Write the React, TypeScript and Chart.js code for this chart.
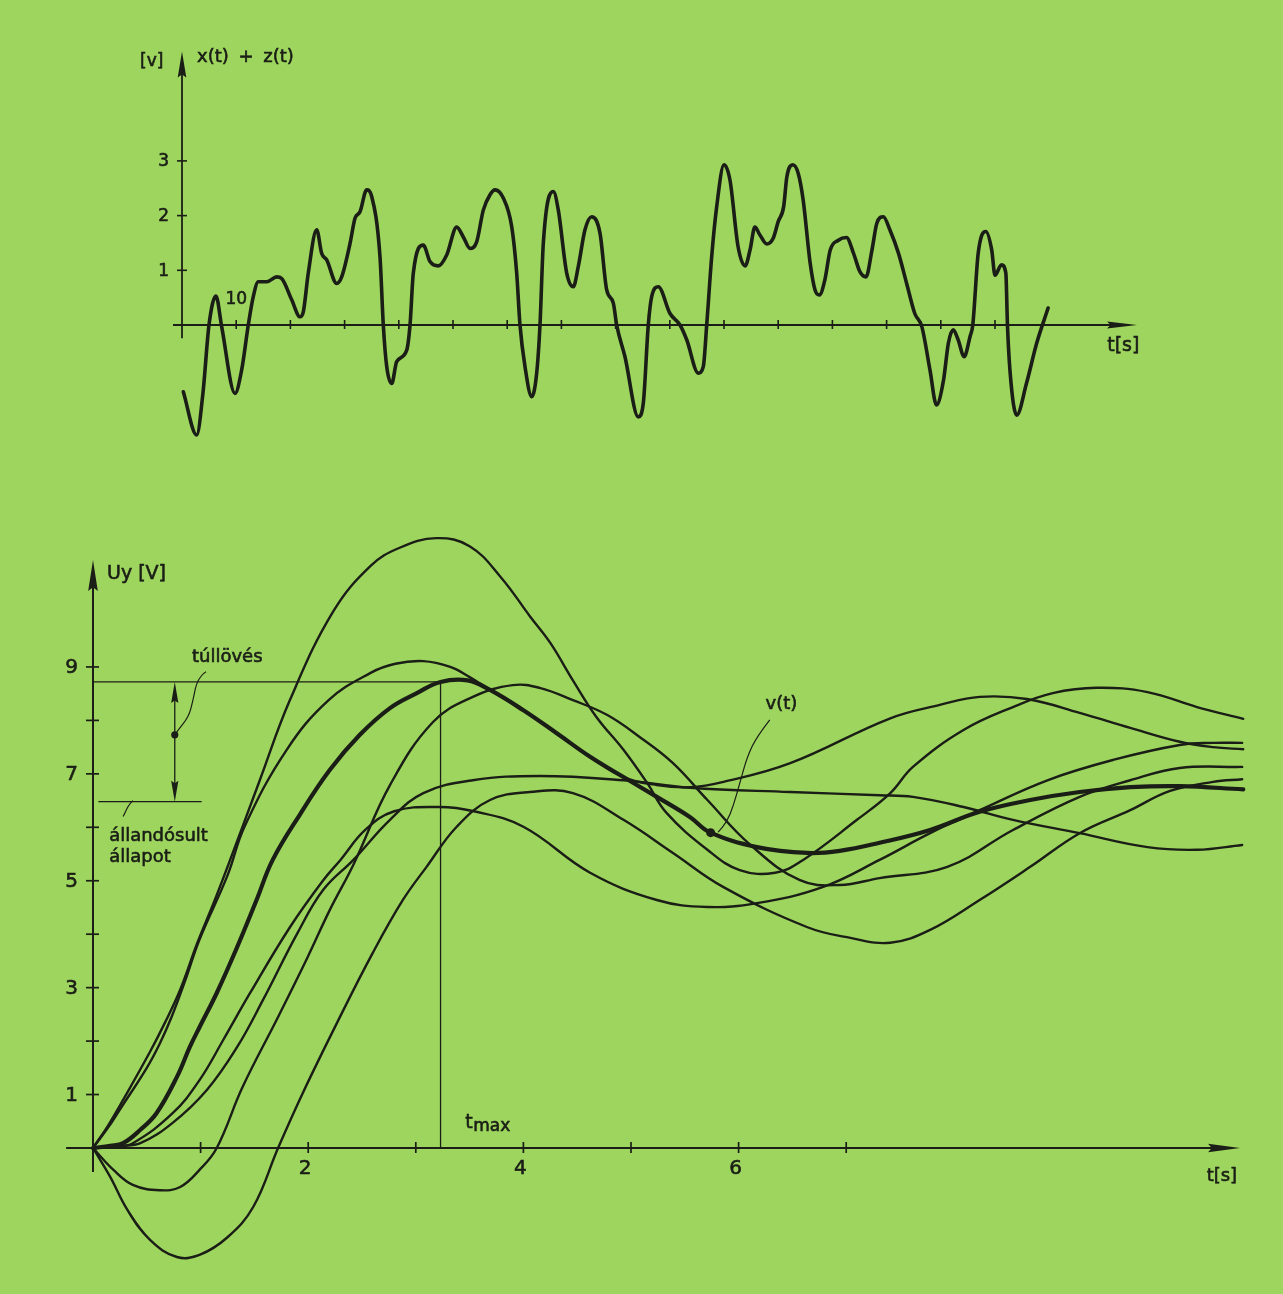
import { useEffect, useRef } from "react";
import { Chart, registerables } from "chart.js";

Chart.register(...registerables);

const W = 1283;
const H = 1294;
const BG = "#9ed55e";
const INK = "#1a1e16";
const FONT = '"DejaVu Sans", "Liberation Sans", sans-serif';

// ---------------- top chart: x(t) + z(t) ----------------
const noiseT = [
  0.24, 2.71, 3.87, 4.98, 6.27, 7.32, 9.78, 11.01, 12.23, 13.15,
  14.08, 15.63, 17.47, 18.39, 20.24, 21.77, 22.38, 23.3, 24.85, 25.77,
  26.7, 28.54, 29.46, 31.0, 31.92, 32.84, 34.08, 35.0, 36.53, 37.14,
  37.77, 38.69, 39.61, 41.46, 42.07, 42.68, 44.52, 45.76, 47.29, 48.84,
  50.68, 51.9, 53.14, 54.37, 55.59, 56.83, 57.75, 59.28, 60.83, 61.75,
  62.36, 63.28, 64.52, 65.44, 66.05, 66.66, 68.51, 69.43, 70.98, 72.2,
  73.12, 74.35, 75.59, 77.12, 78.36, 79.58, 80.2, 81.73, 84.19, 85.11,
  86.03, 86.66, 87.88, 90.04, 91.88, 93.12, 95.26, 96.18, 96.81, 97.73,
  98.65, 100.0, 101.1, 102.6, 103.9, 104.8, 105.7, 106.6, 107.9, 109.1,
  110.0, 111.0, 111.6, 112.7, 113.7, 114.6, 115.9, 116.8, 117.6, 118.6,
  119.6, 121.1, 122.6, 123.9, 125.1, 126.2, 127.3, 128.2, 129.4, 130.6,
  132.2, 133.7, 135.2, 136.5, 138.0, 139.2, 140.5, 141.4, 142.3, 143.2,
  144.3, 145.4, 145.9, 146.9, 148.3, 149.4, 150.0, 151.2, 152.0, 152.3,
  152.8, 154.0, 155.8, 157.7, 159.8,
];
const noiseV = [
  -1.22, -2.01, -1.24, 0, 0.53, -0.03, -1.25, -0.82, 0, 0.52,
  0.79, 0.79, 0.88, 0.85, 0.46, 0.15, 0.24, 0.95, 1.74, 1.31,
  1.19, 0.76, 0.88, 1.49, 1.95, 2.07, 2.47, 2.35, 1.25, 0,
  -0.76, -1.07, -0.67, -0.46, 0, 0.95, 1.46, 1.16, 1.08, 1.28,
  1.79, 1.61, 1.4, 1.52, 2.1, 2.38, 2.47, 2.32, 1.8, 0.95,
  0, -0.76, -1.31, -0.88, 0, 1.49, 2.44, 2.1, 0.95, 0.7,
  1.07, 1.74, 1.98, 1.68, 0.64, 0.4, 0, -0.58, -1.68, -1.43,
  0, 0.52, 0.7, 0.21, 0, -0.27, -0.88, -0.76, 0, 1.25,
  2.16, 2.93, 2.65, 1.43, 1.08, 1.37, 1.79, 1.65, 1.48, 1.59,
  1.89, 2.16, 2.71, 2.93, 2.77, 2.29, 1.13, 0.64, 0.55, 0.82,
  1.37, 1.55, 1.6, 1.31, 0.97, 0.88, 1.37, 1.86, 1.98, 1.74,
  1.31, 0.76, 0.21, -0.03, -0.82, -1.46, -1.01, -0.33, -0.09, -0.27,
  -0.58, -0.21, 0, 1.31, 1.71, 1.37, 0.91, 1.1, 0.95, 0,
  -0.88, -1.65, -1.07, -0.33, 0.31,
];
const topXTicks = [10, 20, 30, 40, 50, 60, 70, 80, 90, 100, 110, 120, 130, 140, 150];
const topYTicks = [1, 2, 3];
const topYLabels = ["1", "2", "3"];

// ---------------- bottom chart: Uy step responses ----------------
const c1T = [0, 0.14, 0.28, 0.53, 0.67, 0.81, 0.97, 1.12, 1.25, 1.55, 1.83, 2.23, 2.58, 2.85, 3.19, 3.5, 3.79, 4.06, 4.25, 4.46, 4.68, 4.93, 5.15, 5.33, 5.71, 6.01, 6.34, 6.6, 7.1, 7.41, 7.62, 8.09, 8.55, 8.92, 9.33, 9.8, 10.26, 10.69];
const c1V = [0, 0.42, 0.9, 1.8, 2.35, 2.96, 3.84, 4.58, 5.26, 6.88, 8.38, 10.03, 10.89, 11.23, 11.41, 11.26, 10.68, 9.95, 9.45, 8.75, 8.06, 7.45, 6.83, 6.27, 5.58, 5.2, 5.15, 5.39, 6.14, 6.64, 7.13, 7.82, 8.25, 8.51, 8.61, 8.53, 8.25, 8.03];

const c2T = [0, 0.14, 0.25, 0.5, 0.62, 0.73, 0.86, 0.99, 1.25, 1.41, 1.8, 2.19, 2.58, 2.81, 3.07, 3.32, 3.5, 3.69, 4.0, 4.31, 4.62, 4.93, 5.24, 5.55, 5.86, 6.48, 7.41, 7.87, 8.24, 8.68, 9.17, 9.64, 10.1, 10.41, 10.69];
const c2V = [0, 0.38, 0.72, 1.5, 1.95, 2.45, 3.15, 3.9, 5.1, 6.02, 7.45, 8.38, 8.89, 9.06, 9.11, 9.0, 8.81, 8.57, 8.19, 7.76, 7.32, 6.94, 6.79, 6.75, 6.85, 7.2, 8.04, 8.29, 8.44, 8.4, 8.14, 7.86, 7.6, 7.5, 7.46];

const vT = [0, 0.16, 0.28, 0.44, 0.59, 0.78, 0.9, 0.99, 1.15, 1.34, 1.52, 1.67, 1.92, 2.2, 2.48, 2.76, 3.01, 3.23, 3.48, 3.69, 4.0, 4.31, 4.62, 4.93, 5.24, 5.55, 5.73, 6.17, 6.64, 6.94, 7.31, 7.78, 8.24, 8.71, 9.17, 9.64, 10.1, 10.69];
const vV = [0, 0.04, 0.09, 0.34, 0.65, 1.33, 1.89, 2.26, 2.9, 3.76, 4.64, 5.39, 6.23, 7.07, 7.73, 8.23, 8.51, 8.72, 8.75, 8.57, 8.19, 7.76, 7.32, 6.94, 6.57, 6.19, 5.91, 5.63, 5.52, 5.56, 5.71, 5.95, 6.29, 6.51, 6.66, 6.75, 6.77, 6.71];

const c4T = [0, 0.19, 0.37, 0.62, 0.81, 0.99, 1.15, 1.39, 1.72, 1.99, 2.2, 2.42, 2.76, 3.16, 3.53, 3.9, 4.15, 4.46, 4.78, 5.08, 5.39, 5.71, 6.11, 6.57, 6.94, 7.31, 7.94, 8.55, 9.17, 9.64, 10.1, 10.68];
const c4V = [0, -0.41, -0.69, -0.79, -0.73, -0.41, 0, 1.14, 2.45, 3.55, 4.45, 5.3, 6.79, 7.97, 8.44, 8.66, 8.61, 8.38, 8.1, 7.69, 7.2, 6.51, 5.67, 5.01, 4.92, 5.05, 5.26, 5.95, 6.57, 6.88, 7.11, 7.13];

const c5T = [0, 0.25, 0.44, 0.74, 1.06, 1.34, 1.58, 1.9, 2.14, 2.42, 2.76, 3.07, 3.53, 4.15, 4.93, 5.55, 6.48, 7.31, 7.62, 8.09, 8.55, 9.17, 9.8, 10.26, 10.68];
const c5V = [0, 0.04, 0.09, 0.47, 1.09, 1.89, 2.77, 4.02, 4.83, 5.39, 6.14, 6.64, 6.88, 6.96, 6.88, 6.74, 6.66, 6.6, 6.57, 6.38, 6.14, 5.89, 5.63, 5.58, 5.67];

const c6T = [0, 0.16, 0.32, 0.53, 0.78, 0.99, 1.25, 1.49, 1.72, 1.95, 2.27, 2.6, 2.88, 3.1, 3.38, 3.69, 4.06, 4.46, 4.93, 5.39, 5.86, 6.64, 7.04, 7.41, 7.78, 8.24, 8.71, 9.17, 9.64, 10.01, 10.41, 10.68];
const c6V = [0, -0.54, -1.16, -1.72, -2.04, -2.0, -1.67, -1.1, 0, 1.03, 2.35, 3.65, 4.64, 5.26, 6.01, 6.51, 6.66, 6.64, 6.14, 5.52, 4.88, 4.13, 3.93, 3.84, 4.08, 4.64, 5.26, 5.89, 6.32, 6.68, 6.85, 6.9];

const c7T = [0, 0.2, 0.37, 0.74, 0.99, 1.21, 1.46, 1.83, 2.14, 2.3, 2.53, 2.8, 3.22, 3.54, 4.0, 4.62, 5.24, 5.71, 6.17, 6.78, 7.31, 7.78, 8.24, 8.87, 9.48, 10.1, 10.41, 10.68];
const c7V = [0, 0.02, 0.09, 0.65, 1.27, 2.02, 2.9, 4.13, 5.01, 5.39, 5.95, 6.3, 6.38, 6.3, 6.01, 5.15, 4.64, 4.51, 4.58, 4.88, 5.39, 5.89, 6.32, 6.88, 7.26, 7.54, 7.58, 7.58];

const botXTicks = [1, 2, 3, 4, 5, 6, 7];
const botXLabelValues = [2, 4, 6];
const botXLabels = ["2", "4", "6"];
const botYTicks = [1, 2, 3, 4, 5, 6, 7, 8, 9];
const botYLabelValues = [1, 3, 5, 7, 9];
const botYLabels = ["1", "3", "5", "7", "9"];

const overshootLevel = 8.72;
const steadyLevel = 6.48;
const tMax = 3.23;
const overshootArrowT = 0.76;
const overshootMarkV = 7.73;
const leaderT = [0.76, 0.79, 0.89, 0.93, 0.96, 1.01, 1.05];
const leaderV = [7.73, 7.82, 8.07, 8.38, 8.69, 8.85, 8.91];
const vLeaderT = [6.29, 6.17, 6.08, 6.01, 5.95, 5.89, 5.81];
const vLeaderV = [8.01, 7.7, 7.32, 6.82, 6.39, 6.1, 5.91];
const vDot = [5.74, 5.9];

type Ctx = CanvasRenderingContext2D;

function seg(ctx: Ctx, x1: number, y1: number, x2: number, y2: number) {
  ctx.beginPath();
  ctx.moveTo(x1, y1);
  ctx.lineTo(x2, y2);
  ctx.stroke();
}

function head(ctx: Ctx, tx: number, ty: number, dx: number, dy: number, len: number, half: number) {
  const bx = tx - dx * len;
  const by = ty - dy * len;
  const nx = -dy;
  const ny = dx;
  ctx.beginPath();
  ctx.moveTo(tx, ty);
  ctx.lineTo(bx + nx * half, by + ny * half);
  ctx.lineTo(bx + dx * len * 0.12, by + dy * len * 0.12);
  ctx.lineTo(bx - nx * half, by - ny * half);
  ctx.closePath();
  ctx.fill();
}

function smooth(ctx: Ctx, pts: number[][]) {
  ctx.beginPath();
  ctx.moveTo(pts[0][0], pts[0][1]);
  for (let i = 1; i < pts.length - 1; i++) {
    const mx = (pts[i][0] + pts[i + 1][0]) / 2;
    const my = (pts[i][1] + pts[i + 1][1]) / 2;
    ctx.quadraticCurveTo(pts[i][0], pts[i][1], mx, my);
  }
  const last = pts[pts.length - 1];
  ctx.lineTo(last[0], last[1]);
  ctx.stroke();
}

function setFont(ctx: Ctx, size: number) {
  ctx.font = `${size}px ${FONT}`;
}

function txt(ctx: Ctx, s: string, x: number, y: number) {
  ctx.save();
  ctx.lineWidth = 0.6;
  ctx.strokeStyle = INK;
  ctx.fillText(s, x, y);
  ctx.strokeText(s, x, y);
  ctx.restore();
}

function pts(ts: number[], vs: number[]) {
  return ts.map((t, i) => ({ x: t, y: vs[i] }));
}

function topConfig(): any {
  const plugin = {
    id: "topHandAxes",
    beforeDatasetsDraw(chart: any) {
      const ctx: Ctx = chart.ctx;
      const xs = chart.scales.x;
      const ys = chart.scales.y;
      const X = (v: number) => xs.getPixelForValue(v);
      const Y = (v: number) => ys.getPixelForValue(v);
      const x0 = X(0);
      const y0 = Y(0);
      ctx.save();
      ctx.strokeStyle = INK;
      ctx.fillStyle = INK;
      ctx.lineWidth = 1.8;
      seg(ctx, X(-1.66), y0, X(176.2) - 20, y0);
      head(ctx, X(176.2), y0, 1, 0, 30, 3.6);
      seg(ctx, x0, Y(-0.24), x0, Y(5.0) + 18);
      head(ctx, x0, Y(5.0), 0, -1, 26, 4.3);
      ctx.lineWidth = 1.6;
      topXTicks.forEach((t) => seg(ctx, X(t), y0 - 5, X(t), y0 + 4));
      topYTicks.forEach((v) => seg(ctx, x0 - 5, Y(v), x0 + 5, Y(v)));
      setFont(ctx, 17);
      ctx.textAlign = "right";
      ctx.textBaseline = "middle";
      topYTicks.forEach((v, i) => txt(ctx, topYLabels[i], x0 - 13, Y(v) + 1));
      ctx.textAlign = "center";
      ctx.textBaseline = "alphabetic";
      txt(ctx, "10", X(10), Y(0.38));
      ctx.textAlign = "left";
      txt(ctx, "[v]", X(-7.75), Y(4.74));
      setFont(ctx, 18);
      (ctx as any).wordSpacing = "4px";
      txt(ctx, "x(t) + z(t)", X(2.77), Y(4.81));
      (ctx as any).wordSpacing = "0px";
      setFont(ctx, 19);
      txt(ctx, "t[s]", X(170.7), Y(-0.48));
      ctx.restore();
    },
  };
  return {
    type: "line",
    data: {
      datasets: [
        {
          data: pts(noiseT, noiseV),
          borderColor: INK,
          borderWidth: 3.6,
          pointRadius: 0,
          fill: false,
          cubicInterpolationMode: "monotone",
          borderJoinStyle: "round",
          borderCapStyle: "round",
        },
      ],
    },
    options: {
      responsive: false,
      animation: false,
      events: [],
      layout: { padding: { left: 171.16, right: 146.0, top: 51.5, bottom: 848.66 } },
      scales: {
        x: { type: "linear", min: -2, max: 176.2, display: false },
        y: { type: "linear", min: -2.2, max: 5, display: false },
      },
      plugins: { legend: { display: false }, tooltip: { enabled: false } },
    },
    plugins: [plugin],
  };
}

function bottomConfig(): any {
  const plugin = {
    id: "bottomHandAxes",
    beforeDatasetsDraw(chart: any) {
      const ctx: Ctx = chart.ctx;
      const xs = chart.scales.x;
      const ys = chart.scales.y;
      const X = (v: number) => xs.getPixelForValue(v);
      const Y = (v: number) => ys.getPixelForValue(v);
      const x0 = X(0);
      const y0 = Y(0);
      ctx.save();
      ctx.strokeStyle = INK;
      ctx.fillStyle = INK;
      ctx.lineWidth = 2;
      seg(ctx, X(-0.25), y0, X(10.66) - 20, y0);
      head(ctx, X(10.66), y0, 1, 0, 32, 4.2);
      seg(ctx, x0, Y(-0.45), x0, Y(11.0) + 20);
      head(ctx, x0, Y(11.0), 0, -1, 31, 4.8);
      ctx.lineWidth = 1.7;
      botXTicks.forEach((t) => seg(ctx, X(t), y0 - 6, X(t), y0 + 5));
      botYTicks.forEach((v) => seg(ctx, x0 - 7, Y(v), x0 + 6, Y(v)));
      setFont(ctx, 20);
      ctx.textAlign = "right";
      ctx.textBaseline = "middle";
      botYLabelValues.forEach((v, i) => txt(ctx, botYLabels[i], x0 - 15, Y(v) + 1));
      ctx.textAlign = "center";
      ctx.textBaseline = "top";
      botXLabelValues.forEach((t, i) => txt(ctx, botXLabels[i], X(t) - 3, y0 + 11));

      // annotation lines
      ctx.lineWidth = 1.3;
      seg(ctx, x0, Y(overshootLevel), X(tMax), Y(overshootLevel));
      seg(ctx, X(tMax), Y(overshootLevel), X(tMax), y0);
      seg(ctx, X(0.05), Y(steadyLevel), X(1.01), Y(steadyLevel));
      const ax = X(overshootArrowT);
      seg(ctx, ax, Y(overshootLevel) + 14, ax, Y(steadyLevel) - 14);
      head(ctx, ax, Y(overshootLevel), 0, -1, 21, 3.6);
      head(ctx, ax, Y(steadyLevel), 0, 1, 21, 3.6);
      ctx.beginPath();
      ctx.arc(ax, Y(overshootMarkV), 3.6, 0, Math.PI * 2);
      ctx.fill();
      ctx.lineWidth = 1.2;
      smooth(ctx, leaderT.map((t, i) => [X(t), Y(leaderV[i])]));
      smooth(ctx, [
        [X(0.37), Y(6.5)],
        [X(0.34), Y(6.44)],
        [X(0.31), Y(6.33)],
        [X(0.28), Y(6.2)],
      ]);
      ctx.restore();
    },
    afterDatasetsDraw(chart: any) {
      const ctx: Ctx = chart.ctx;
      const xs = chart.scales.x;
      const ys = chart.scales.y;
      const X = (v: number) => xs.getPixelForValue(v);
      const Y = (v: number) => ys.getPixelForValue(v);
      ctx.save();
      ctx.strokeStyle = INK;
      ctx.fillStyle = INK;
      ctx.lineWidth = 1.2;
      smooth(ctx, vLeaderT.map((t, i) => [X(t), Y(vLeaderV[i])]));
      ctx.beginPath();
      ctx.arc(X(vDot[0]), Y(vDot[1]), 4.5, 0, Math.PI * 2);
      ctx.fill();

      ctx.textAlign = "left";
      ctx.textBaseline = "alphabetic";
      setFont(ctx, 19);
      txt(ctx, "Uy [V]", X(0.13), Y(10.65));
      setFont(ctx, 18);
      txt(ctx, "túllövés", X(0.92), Y(9.1));
      txt(ctx, "állandósult", X(0.15), Y(5.74));
      txt(ctx, "állapot", X(0.15), Y(5.35));
      txt(ctx, "v(t)", X(6.25), Y(8.21));
      setFont(ctx, 19);
      const tx = X(3.46);
      const ty = Y(0.37);
      txt(ctx, "t", tx, ty);
      setFont(ctx, 17);
      txt(ctx, "max", tx + 8, ty + 3);
      setFont(ctx, 18);
      txt(ctx, "t[s]", X(10.35), Y(-0.62));
      ctx.restore();
    },
  };
  const thin = (ts: number[], vs: number[]) => ({
    data: pts(ts, vs),
    borderColor: INK,
    borderWidth: 2.4,
    pointRadius: 0,
    fill: false,
    tension: 0.4,
    cubicInterpolationMode: "default",
    borderJoinStyle: "round",
    borderCapStyle: "round",
  });
  return {
    type: "line",
    data: {
      datasets: [
        thin(c1T, c1V),
        thin(c2T, c2V),
        thin(c4T, c4V),
        thin(c5T, c5V),
        thin(c6T, c6V),
        thin(c7T, c7V),
        { ...thin(vT, vV), borderWidth: 4.2 },
      ],
    },
    options: {
      responsive: false,
      animation: false,
      events: [],
      layout: { padding: { left: 60.72, right: 33.3, top: 517.3, bottom: 12.4 } },
      scales: {
        x: { type: "linear", min: -0.3, max: 10.75, display: false },
        y: { type: "linear", min: -2.5, max: 11.8, display: false },
      },
      plugins: { legend: { display: false }, tooltip: { enabled: false } },
    },
    plugins: [plugin],
  };
}

export default function App() {
  const topRef = useRef<HTMLCanvasElement>(null);
  const botRef = useRef<HTMLCanvasElement>(null);
  useEffect(() => {
    const a = new Chart(topRef.current as HTMLCanvasElement, topConfig());
    const b = new Chart(botRef.current as HTMLCanvasElement, bottomConfig());
    return () => {
      a.destroy();
      b.destroy();
    };
  }, []);
  const cs: any = { position: "absolute", left: 0, top: 0, width: W, height: H };
  return (
    <div style={{ position: "fixed", left: 0, top: 0, width: W, height: H, background: BG, overflow: "hidden" }}>
      <canvas ref={topRef} width={W} height={H} style={cs} />
      <canvas ref={botRef} width={W} height={H} style={cs} />
    </div>
  );
}
